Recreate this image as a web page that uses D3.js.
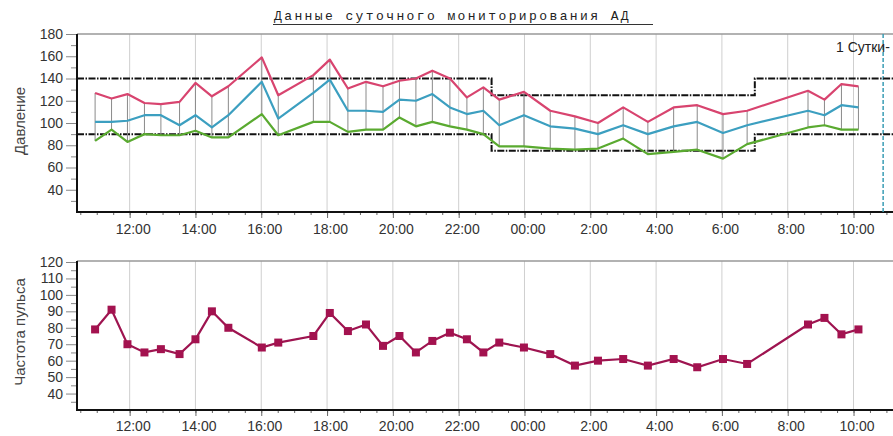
<!DOCTYPE html>
<html>
<head>
<meta charset="utf-8">
<script src="https://cdn.jsdelivr.net/npm/d3@7"></script>
<style>
  body { margin: 0; background: #fff; }
  text { font-family: "Liberation Sans", Arial, sans-serif; fill: #333; }
</style>
</head>
<body>
<div id="chart"></div>
<script>
// Measurement times (day rolls over after midnight)
var times = ["10:57", "11:27", "11:56", "12:27", "12:57", "13:31", "14:00", "14:30", "15:00",
  "16:01", "16:31", "17:35", "18:05", "18:38", "19:11", "19:42", "20:12", "20:42", "21:12",
  "21:44", "22:15", "22:45", "23:14", "23:59", "00:47", "01:32", "02:14", "03:00", "03:45",
  "04:32", "05:15", "06:02", "06:46", "08:37", "09:07", "09:38", "10:09"];

var systolic = [127, 122, 126, 118, 117, 119, 136, 124, 133, 159, 125, 143, 157, 131, 137, 133,
  138, 140, 147, 140, 123, 132, 121, 128, 111, 106, 100, 114, 101, 114, 116, 108, 111, 129, 121, 135, 133];
var meanBP = [101, 101, 102, 107, 107, 98, 107, 96, 107, 137, 104, 127, 139, 111, 111, 110,
  121, 120, 126, 114, 108, 111, 98, 107, 97, 95, 90, 98, 90, 97, 101, 91, 98, 111, 107, 116, 114];
var diastolic = [84, 94, 83, 90, 89, 89, 93, 87, 87, 108, 89, 101, 101, 92, 94, 94,
  105, 97, 101, 97, 94, 90, 79, 79, 77, 76, 77, 86, 72, 74, 76, 68, 81, 96, 98, 94, 94];
var pulse = [79, 91, 70, 65, 67, 64, 73, 90, 80, 68, 71, 75, 89, 78, 82, 69,
  75, 65, 72, 77, 73, 65, 71, 68, 64, 57, 60, 61, 57, 61, 56, 61, 58, 82, 86, 76, 79];

// day / night limits
var limitTimes = ["10:24", "23:00", "07:00", "11:12"];
var upperLimit = [140, 125, 140, 140];
var lowerLimit = [90, 75, 90, 90];

var pressureTicks = [40, 60, 80, 100, 120, 140, 160, 180];
var pressureMinor = [30, 50, 70, 90, 110, 130, 150, 170];
var pulseTicks = [40, 50, 60, 70, 80, 90, 100, 110, 120];
var pulseMinor = [35, 45, 55, 65, 75, 85, 95, 105, 115];

var startTime = "10:24";
var endTime = "11:12";
var dayMarkTime = "10:54";

// turn "HH:MM" lists into dates, adding a day when the clock wraps
function toDates(list) {
  var day = 1, prev = -1;
  return list.map(function(s) {
    var p = s.split(":");
    var m = +p[0] * 60 + +p[1];
    if (m < prev) day++;
    prev = m;
    return new Date(2000, 0, day, +p[0], +p[1]);
  });
}

var measureDates = toDates(times);
var limitDates = toDates(limitTimes);
var domainDates = toDates([startTime, "23:59", endTime]);
var dayMark = toDates(["23:00", dayMarkTime])[1];

var svgWidth = 893;
var svgHeight = 436;
var left = 77, right = 893;

var svg = d3.select("#chart").append("svg")
  .attr("width", svgWidth)
  .attr("height", svgHeight);

var x = d3.scaleTime()
  .domain([domainDates[0], domainDates[2]])
  .range([left, right]);

var majorTicks = d3.timeHour.every(2).range(domainDates[0], domainDates[2]);
var minorTicks = d3.timeMinute.every(30).range(domainDates[0], domainDates[2]);

function hourFormat(d) {
  var h = d.getHours();
  return (h === 0 ? "00" : h) + ":00";
}

// Title
svg.append("text")
  .attr("x", 274)
  .attr("y", 20)
  .style("font-family", "'Liberation Mono', 'Courier New', monospace")
  .style("font-size", "13px")
  .style("letter-spacing", "2.4px")
  .style("fill", "#222")
  .text("Данные суточного мониторирования АД");
svg.append("line")
  .attr("x1", 273).attr("x2", 653)
  .attr("y1", 24.5).attr("y2", 24.5)
  .attr("stroke", "#333").attr("stroke-width", 1);

// common panel drawing
function drawPanel(y, top, bottom, ticks, minor, label, labelY, pad) {
  var g = svg.append("g");

  // vertical grid
  g.selectAll(".grid")
    .data(majorTicks)
    .enter().append("line")
    .attr("x1", d => x(d)).attr("x2", d => x(d))
    .attr("y1", top).attr("y2", bottom)
    .attr("stroke", "#cfcfcf").attr("stroke-width", 1);

  // top border
  g.append("line")
    .attr("x1", left).attr("x2", right)
    .attr("y1", top).attr("y2", top)
    .attr("stroke", "#999").attr("stroke-width", 1.5);

  // y axis
  var yAxis = g.append("g")
    .attr("transform", `translate(${left},0)`)
    .call(d3.axisLeft(y).tickValues(ticks).tickSize(11).tickPadding(3));
  yAxis.select(".domain").remove();
  yAxis.selectAll("line").attr("stroke", "#888");
  yAxis.selectAll("text").style("font-size", "14px").style("fill", "#333")
    .style("font-family", "'Liberation Sans', Arial, sans-serif");

  var yMinor = g.append("g")
    .attr("transform", `translate(${left},0)`)
    .call(d3.axisLeft(y).tickValues(minor).tickSize(6).tickFormat(""));
  yMinor.select(".domain").remove();
  yMinor.selectAll("line").attr("stroke", "#888");

  // x axis
  var xAxis = g.append("g")
    .attr("transform", `translate(0,${bottom})`)
    .call(d3.axisBottom(x).tickValues(majorTicks).tickFormat(hourFormat).tickSize(6).tickPadding(pad));
  xAxis.select(".domain").remove();
  xAxis.selectAll("line").attr("stroke", "#666");
  xAxis.selectAll("text").attr("dx", 3).style("font-size", "14px").style("fill", "#333")
    .style("font-family", "'Liberation Sans', Arial, sans-serif");

  var xMinor = g.append("g")
    .attr("transform", `translate(0,${bottom})`)
    .call(d3.axisBottom(x).tickValues(minorTicks).tickSize(3).tickFormat(""));
  xMinor.select(".domain").remove();
  xMinor.selectAll("line").attr("stroke", "#666");

  // axis lines
  g.append("line")
    .attr("x1", left).attr("x2", left)
    .attr("y1", top).attr("y2", bottom + 1)
    .attr("stroke", "#111").attr("stroke-width", 2);
  g.append("line")
    .attr("x1", left).attr("x2", right)
    .attr("y1", bottom).attr("y2", bottom)
    .attr("stroke", "#111").attr("stroke-width", 2);

  // axis label
  g.append("text")
    .attr("transform", `translate(25,${labelY}) rotate(-90)`)
    .attr("text-anchor", "middle")
    .style("font-size", "15px")
    .style("fill", "#444")
    .text(label);

  return g;
}

// ---------- pressure panel ----------
var yP = d3.scaleLinear().domain([20, 180]).range([212, 34]);
var gP = drawPanel(yP, 34, 212, pressureTicks, pressureMinor, "Давление", 121, 6);

// day marker
gP.append("line")
  .attr("x1", x(dayMark)).attr("x2", x(dayMark))
  .attr("y1", 34).attr("y2", 212)
  .attr("stroke", "#3a9db5").attr("stroke-width", 1.5)
  .attr("stroke-dasharray", "4,2");
gP.append("text")
  .attr("x", 836)
  .attr("y", 52)
  .style("font-size", "14px")
  .style("fill", "#222")
  .text("1 Сутки-");

// limits
var stepLine = function(values) {
  return d3.line()
    .x((d, i) => x(limitDates[i]))
    .y(d => yP(d))
    .curve(d3.curveStepAfter)(values);
};
[upperLimit, lowerLimit].forEach(function(vals) {
  gP.append("path")
    .attr("d", stepLine(vals))
    .attr("fill", "none")
    .attr("stroke", "#111")
    .attr("stroke-width", 2)
    .attr("stroke-dasharray", "7,1.5,1.5,1.5");
});

// systolic-diastolic whiskers
gP.selectAll(".whisker")
  .data(measureDates)
  .enter().append("line")
  .attr("x1", d => x(d)).attr("x2", d => x(d))
  .attr("y1", (d, i) => yP(systolic[i]))
  .attr("y2", (d, i) => yP(diastolic[i]))
  .attr("stroke", "#8a8a8a").attr("stroke-width", 1);

var series = [
  { values: diastolic, color: "#5aaa30" },
  { values: meanBP, color: "#3c9fc0" },
  { values: systolic, color: "#d8446f" }
];
series.forEach(function(s) {
  var line = d3.line()
    .x((d, i) => x(measureDates[i]))
    .y(d => yP(d));
  gP.append("path")
    .attr("d", line(s.values))
    .attr("fill", "none")
    .attr("stroke", s.color)
    .attr("stroke-width", 2.2)
    .attr("stroke-linejoin", "round");
});

// ---------- pulse panel ----------
var yH = d3.scaleLinear().domain([30, 120]).range([410, 262]);
var gH = drawPanel(yH, 261, 410, pulseTicks, pulseMinor, "Частота пульса", 332, 5);

var pulseLine = d3.line()
  .x((d, i) => x(measureDates[i]))
  .y(d => yH(d));
gH.append("path")
  .attr("d", pulseLine(pulse))
  .attr("fill", "none")
  .attr("stroke", "#9e1450")
  .attr("stroke-width", 2.2);

gH.selectAll(".marker")
  .data(pulse)
  .enter().append("rect")
  .attr("x", (d, i) => x(measureDates[i]) - 4)
  .attr("y", d => yH(d) - 4)
  .attr("width", 8)
  .attr("height", 8)
  .attr("fill", "#a3124f");
</script>
</body>
</html>
